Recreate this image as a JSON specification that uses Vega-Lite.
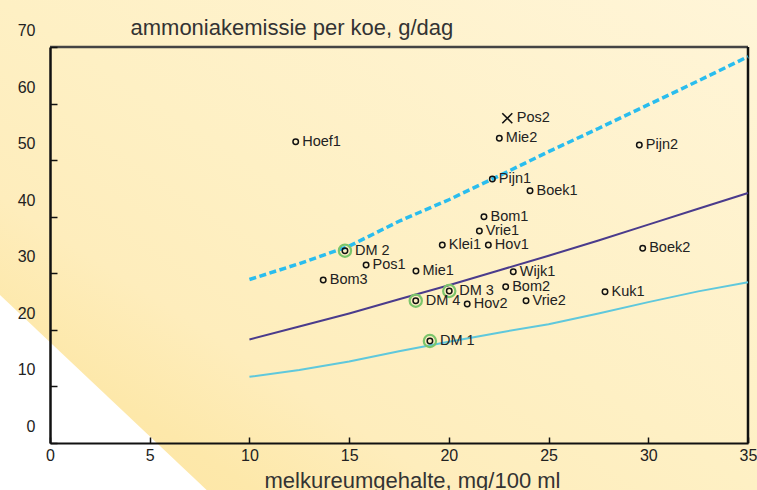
{
  "$schema": "https://vega.github.io/schema/vega-lite/v6.json",
  "width": 698,
  "height": 396,
  "autosize": {"type": "none"},
  "padding": {"left": 50, "top": 47, "right": 9, "bottom": 47},
  "background": "#FEF1C6",
  "config": {"view": {"stroke": null}, "font": "Liberation Sans"},
  "datasets": {
    "bg": [{"x": -2.6, "x2": 35.5, "y": -8.4, "y2": 78.5}],
    "white": [
      {"x": -2.76, "y": 26.99, "y2": -9.19},
      {"x": 8.12, "y": -9.19, "y2": -9.19}
    ],
    "curves": [
      {"s": "hoog", "x": 10, "y": 28.9},
      {"s": "hoog", "x": 12.5, "y": 31.7},
      {"s": "hoog", "x": 15, "y": 34.8},
      {"s": "hoog", "x": 17.5, "y": 39.2},
      {"s": "hoog", "x": 20, "y": 43.0},
      {"s": "hoog", "x": 22.5, "y": 47.2},
      {"s": "hoog", "x": 25, "y": 51.5},
      {"s": "hoog", "x": 27.5, "y": 55.6},
      {"s": "hoog", "x": 30, "y": 59.8},
      {"s": "hoog", "x": 32.5, "y": 64.0},
      {"s": "hoog", "x": 35, "y": 68.3},
      {"s": "midden", "x": 10, "y": 18.3},
      {"s": "midden", "x": 12.5, "y": 20.6},
      {"s": "midden", "x": 15, "y": 22.9},
      {"s": "midden", "x": 17.5, "y": 25.4},
      {"s": "midden", "x": 20, "y": 27.9},
      {"s": "midden", "x": 22.5, "y": 30.5},
      {"s": "midden", "x": 25, "y": 33.1},
      {"s": "midden", "x": 27.5, "y": 35.8},
      {"s": "midden", "x": 30, "y": 38.6},
      {"s": "midden", "x": 32.5, "y": 41.4},
      {"s": "midden", "x": 35, "y": 44.2},
      {"s": "laag", "x": 10, "y": 11.7},
      {"s": "laag", "x": 12.5, "y": 12.9},
      {"s": "laag", "x": 15, "y": 14.4},
      {"s": "laag", "x": 17.5, "y": 16.2},
      {"s": "laag", "x": 20, "y": 17.9},
      {"s": "laag", "x": 22.5, "y": 19.5},
      {"s": "laag", "x": 25, "y": 21.0},
      {"s": "laag", "x": 27.5, "y": 22.9},
      {"s": "laag", "x": 30, "y": 24.9},
      {"s": "laag", "x": 32.5, "y": 26.8},
      {"s": "laag", "x": 35, "y": 28.4}
    ],
    "farms": [
      {"name": "Hoef1", "x": 12.32, "y": 53.26, "kind": "o"},
      {"name": "Pos2", "x": 22.93, "y": 57.4, "kind": "x"},
      {"name": "Mie2", "x": 22.53, "y": 53.86, "kind": "o"},
      {"name": "Pijn1", "x": 22.18, "y": 46.67, "kind": "o"},
      {"name": "Boek1", "x": 24.07, "y": 44.6, "kind": "o"},
      {"name": "Bom1", "x": 21.76, "y": 40.0, "kind": "o"},
      {"name": "Vrie1", "x": 21.53, "y": 37.48, "kind": "o"},
      {"name": "Hov1", "x": 21.98, "y": 35.0, "kind": "o"},
      {"name": "Pijn2", "x": 29.55, "y": 52.68, "kind": "o"},
      {"name": "Boek2", "x": 29.72, "y": 34.42, "kind": "o"},
      {"name": "Kuk1", "x": 27.83, "y": 26.75, "kind": "o"},
      {"name": "DM 2", "x": 14.79, "y": 33.99, "kind": "dm"},
      {"name": "Pos1", "x": 15.85, "y": 31.47, "kind": "o"},
      {"name": "Bom3", "x": 13.7, "y": 28.81, "kind": "o"},
      {"name": "Mie1", "x": 18.35, "y": 30.4, "kind": "o"},
      {"name": "Klei1", "x": 19.67, "y": 35.0, "kind": "o"},
      {"name": "DM 3", "x": 20.02, "y": 26.87, "kind": "dm"},
      {"name": "DM 4", "x": 18.34, "y": 25.15, "kind": "dm"},
      {"name": "DM 1", "x": 19.05, "y": 18.03, "kind": "dm"},
      {"name": "Hov2", "x": 20.92, "y": 24.57, "kind": "o"},
      {"name": "Wijk1", "x": 23.23, "y": 30.28, "kind": "o"},
      {"name": "Bom2", "x": 22.85, "y": 27.63, "kind": "o"},
      {"name": "Vrie2", "x": 23.87, "y": 25.15, "kind": "o"}
    ]
  },
  "layer": [
    {
      "data": {"name": "bg"},
      "mark": {
        "type": "rect",
        "clip": false,
        "fill": {
          "gradient": "linear",
          "x1": 0, "y1": 1, "x2": 1, "y2": 0,
          "stops": [
            {"offset": 0, "color": "#FDE4A2"},
            {"offset": 0.17, "color": "#FDE8AA"},
            {"offset": 0.3, "color": "#FEEDBC"},
            {"offset": 0.5, "color": "#FEF0C4"},
            {"offset": 1, "color": "#FFF5D8"}
          ]
        }
      },
      "encoding": {
        "x": {"field": "x", "type": "quantitative", "scale": {"domain": [0, 35], "nice": false}},
        "x2": {"field": "x2"},
        "y": {"field": "y", "type": "quantitative", "scale": {"domain": [0, 70], "nice": false}},
        "y2": {"field": "y2"}
      }
    },
    {
      "data": {"name": "white"},
      "mark": {"type": "area", "clip": false, "fill": "#FFFFFF", "stroke": null},
      "encoding": {
        "x": {"field": "x", "type": "quantitative"},
        "y": {"field": "y", "type": "quantitative"},
        "y2": {"field": "y2"}
      }
    },
    {
      "data": {"values": [{"y": 70}]},
      "mark": {"type": "rule", "color": "#444444", "strokeWidth": 2.5},
      "encoding": {"y": {"field": "y", "type": "quantitative"}}
    },
    {
      "data": {"values": [{"x": 35}]},
      "mark": {"type": "rule", "color": "#111111", "strokeWidth": 2.5},
      "encoding": {"x": {"field": "x", "type": "quantitative"}}
    },
    {
      "data": {"name": "curves"},
      "transform": [{"filter": "datum.s === 'laag'"}],
      "mark": {"type": "line", "color": "#5FC8DC", "strokeWidth": 2},
      "encoding": {
        "x": {"field": "x", "type": "quantitative"},
        "y": {"field": "y", "type": "quantitative"}
      }
    },
    {
      "data": {"name": "curves"},
      "transform": [{"filter": "datum.s === 'midden'"}],
      "mark": {"type": "line", "color": "#4A3B8C", "strokeWidth": 2},
      "encoding": {
        "x": {"field": "x", "type": "quantitative"},
        "y": {"field": "y", "type": "quantitative"}
      }
    },
    {
      "data": {"name": "curves"},
      "transform": [{"filter": "datum.s === 'hoog'"}],
      "mark": {"type": "line", "color": "#2ABDEE", "strokeWidth": 3.5, "strokeDash": [7, 3.5]},
      "encoding": {
        "x": {"field": "x", "type": "quantitative"},
        "y": {"field": "y", "type": "quantitative"}
      }
    },
    {
      "data": {"name": "farms"},
      "transform": [{"filter": "datum.kind === 'dm'"}],
      "mark": {"type": "point", "shape": "circle", "filled": false, "size": 150, "stroke": "#7CC56B", "strokeWidth": 2.2, "opacity": 1},
      "encoding": {
        "x": {"field": "x", "type": "quantitative"},
        "y": {"field": "y", "type": "quantitative"}
      }
    },
    {
      "data": {"name": "farms"},
      "transform": [{"filter": "datum.kind !== 'x'"}],
      "mark": {"type": "point", "shape": "circle", "filled": false, "size": 30, "stroke": "#111111", "strokeWidth": 1.5, "opacity": 1},
      "encoding": {
        "x": {"field": "x", "type": "quantitative"},
        "y": {"field": "y", "type": "quantitative"}
      }
    },
    {
      "data": {"name": "farms"},
      "transform": [{"filter": "datum.kind === 'x'"}],
      "mark": {"type": "point", "shape": "M-1,-1L1,1M1,-1L-1,1", "filled": false, "size": 100, "stroke": "#111111", "strokeWidth": 1.6, "opacity": 1},
      "encoding": {
        "x": {"field": "x", "type": "quantitative"},
        "y": {"field": "y", "type": "quantitative"}
      }
    },
    {
      "data": {"name": "farms"},
      "transform": [{"filter": "datum.kind === 'o'"}],
      "mark": {"type": "text", "align": "left", "baseline": "middle", "dx": 6.5, "fontSize": 14.5, "font": "Liberation Sans", "color": "#222222"},
      "encoding": {
        "x": {"field": "x", "type": "quantitative"},
        "y": {"field": "y", "type": "quantitative"},
        "text": {"field": "name"}
      }
    },
    {
      "data": {"name": "farms"},
      "transform": [{"filter": "datum.kind === 'dm'"}],
      "mark": {"type": "text", "align": "left", "baseline": "middle", "dx": 10, "fontSize": 14.5, "font": "Liberation Sans", "color": "#222222"},
      "encoding": {
        "x": {"field": "x", "type": "quantitative"},
        "y": {"field": "y", "type": "quantitative"},
        "text": {"field": "name"}
      }
    },
    {
      "data": {"name": "farms"},
      "transform": [{"filter": "datum.kind === 'x'"}],
      "mark": {"type": "text", "align": "left", "baseline": "middle", "dx": 9.5, "fontSize": 14.5, "font": "Liberation Sans", "color": "#222222"},
      "encoding": {
        "x": {
          "field": "x", "type": "quantitative",
          "scale": {"domain": [0, 35], "nice": false},
          "axis": {
            "values": [0, 5, 10, 15, 20, 25, 30, 35],
            "grid": false,
            "zindex": 1,
            "tickSize": -6,
            "tickWidth": 1.5,
            "tickColor": "#111111",
            "domainColor": "#111111",
            "domainWidth": 2,
            "labelFontSize": 16,
            "labelColor": "#222222",
            "labelFont": "Liberation Sans",
            "labelPadding": 10,
            "labelFlush": false,
            "labelOverlap": false,
            "title": "melkureumgehalte, mg/100 ml",
            "titleFont": "Liberation Sans",
            "titleFontSize": 22,
            "titleFontWeight": "normal",
            "titleColor": "#333333",
            "titleX": 362,
            "titleY": 44,
            "titleBaseline": "alphabetic"
          }
        },
        "y": {
          "field": "y", "type": "quantitative",
          "scale": {"domain": [0, 70], "nice": false},
          "axis": {
            "values": [0, 10, 20, 30, 40, 50, 60, 70],
            "grid": false,
            "zindex": 1,
            "tickSize": -7,
            "tickWidth": 1.5,
            "tickColor": "#111111",
            "domainColor": "#111111",
            "domainWidth": 2.5,
            "labelFontSize": 16,
            "labelColor": "#222222",
            "labelFont": "Liberation Sans",
            "labelPadding": 22,
            "labelOffset": -16.5,
            "labelFlush": false,
            "labelOverlap": false,
            "title": "ammoniakemissie per koe, g/dag",
            "titleFont": "Liberation Sans",
            "titleFontSize": 22,
            "titleFontWeight": "normal",
            "titleColor": "#333333",
            "titleAngle": 0,
            "titleAlign": "left",
            "titleBaseline": "alphabetic",
            "titleX": 80,
            "titleY": -12.5
          }
        },
        "text": {"field": "name"}
      }
    }
  ]
}
